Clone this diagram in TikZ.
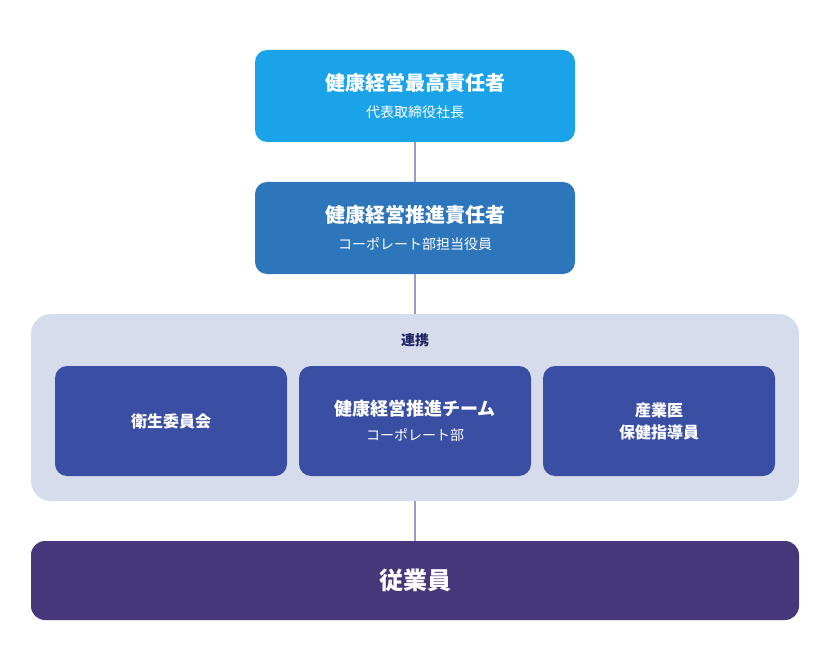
\documentclass[tikz,border=0pt]{standalone}
\usepackage{fontspec}
\setmainfont{Noto Sans CJK JP}
\usepackage{tikz}
\usetikzlibrary{positioning}

\definecolor{topBlue}{HTML}{1AA3E8}
\definecolor{midBlue}{HTML}{2E76BC}
\definecolor{panelGray}{HTML}{D7DCEC}
\definecolor{teamBlue}{HTML}{3A4FA4}
\definecolor{staffPurple}{HTML}{46377A}
\definecolor{linkLine}{HTML}{9C9AC9}
\definecolor{linkText}{HTML}{1F2263}

\begin{document}
\begin{tikzpicture}[x=1pt,y=-1pt,%%
  headStyle/.style={rounded corners=12pt,minimum width=320pt,minimum height=92pt,%%
    text=white,align=center,inner sep=0pt},%%
  teamStyle/.style={rounded corners=12pt,fill=teamBlue,minimum width=232pt,%%
    minimum height=110pt,text=white,align=center,inner sep=0pt},%%
  panelStyle/.style={rounded corners=20pt,fill=panelGray,minimum width=768pt,%%
    minimum height=187pt,inner sep=0pt},%%
  lineStyle/.style={-,draw=linkLine,line width=1.3pt}%%
]
%%
%% Fonts for titles and notes.
\newcommand{\titleFont}{\fontsize{20}{24}\selectfont\bfseries}
\newcommand{\teamFont}{\fontsize{16}{20}\selectfont\bfseries}
\newcommand{\noteFont}{\fontsize{14}{17}\selectfont}
%%
\pgfmathsetmacro{\xmid}{415}  %% centre line of the chart
\pgfmathsetmacro{\dteam}{244} %% distance between the team boxes
%%
%% The page.
\useasboundingbox (0,0) rectangle (830,671);
%%
%% The two heads.
\node[headStyle,fill=topBlue] (ceo) at (\xmid,96)
  {\titleFont 健康経営最高責任者\\[13pt]\noteFont 代表取締役社長};
\node[headStyle,fill=midBlue] (officer) at (\xmid,228)
  {\titleFont 健康経営推進責任者\\[13pt]\noteFont コーポレート部担当役員};
%%
%% The panel of the three teams.
\node[panelStyle] (panel) at (\xmid,407.5) {};
\node[text=linkText,font=\noteFont\bfseries] (link) at (\xmid,340) {連携};
\node[teamStyle] (team) at (\xmid,421)
  {\fontsize{18}{21}\selectfont\bfseries 健康経営推進チーム\\[10pt]\noteFont コーポレート部};
\node[teamStyle,font=\teamFont] (committee) at (\xmid-\dteam,421) {衛生委員会};
\node[teamStyle,font=\teamFont] (doctor) at (\xmid+\dteam,421) {産業医\\[2pt]保健指導員};
%%
%% The employees.
\node[rounded corners=14pt,fill=staffPurple,minimum width=768pt,minimum height=79pt,%%
  text=white,inner sep=0pt,font=\fontsize{24}{28}\selectfont\bfseries] (staff) at (\xmid,580.5) {従業員};
%%
%% The links.
\draw[lineStyle] (ceo.south) -- (officer.north);
\draw[lineStyle] (officer.south) -- (panel.north);
\draw[lineStyle] (panel.south) -- (staff.north);
\end{tikzpicture}
\end{document}
